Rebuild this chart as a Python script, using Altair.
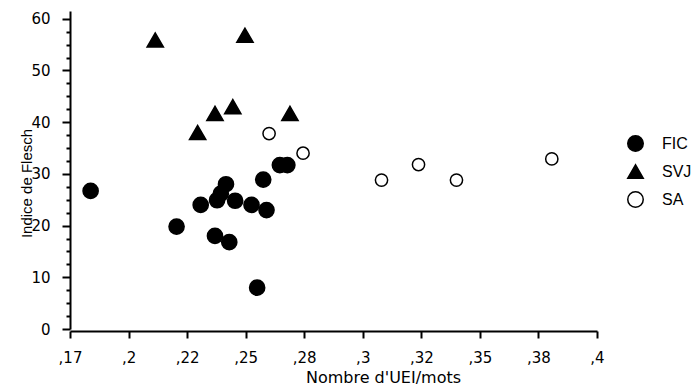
import altair as alt
import pandas as pd

# Reading-ease scores (Indice de Flesch) against the ratio of UEI per word, by corpus
groups = ["FIC", "SVJ", "SA"]

fic_ratio = [0.1838, 0.2205, 0.2308, 0.2378, 0.2394, 0.2416, 0.2455, 0.2525,
             0.2589, 0.2369, 0.2430, 0.2549, 0.2575, 0.2646, 0.2678]
fic_flesch = [26.7, 19.8, 24.0, 24.9, 26.2, 28.0, 24.8, 24.0,
              23.0, 18.0, 16.8, 8.0, 28.9, 31.7, 31.7]

svj_ratio = [0.2114, 0.2497, 0.2369, 0.2445, 0.2295, 0.2689]
svj_flesch = [55.9, 56.8, 41.7, 43.0, 38.0, 41.7]

sa_ratio = [0.2600, 0.2745, 0.3080, 0.3238, 0.3400, 0.3807]
sa_flesch = [37.8, 34.0, 28.8, 31.8, 28.8, 32.9]

x_ticks = [0.175, 0.2, 0.225, 0.25, 0.275, 0.3, 0.325, 0.35, 0.375, 0.4]
x_tick_labels = [",17", ",2", ",22", ",25", ",28", ",3", ",32", ",35", ",38", ",4"]
y_ticks = [0, 2.5, 5, 7.5, 10, 12.5, 15, 17.5, 20, 22.5, 25, 27.5, 30,
           32.5, 35, 37.5, 40, 42.5, 45, 47.5, 50, 52.5, 55, 57.5, 60]

rows = []
for name, xs, ys in [("FIC", fic_ratio, fic_flesch),
                     ("SVJ", svj_ratio, svj_flesch),
                     ("SA", sa_ratio, sa_flesch)]:
    rows += [{"groupe": name, "ratio": x, "flesch": y} for x, y in zip(xs, ys)]
df = pd.DataFrame(rows)

x_label_expr = ("[" + ",".join("'%s'" % s for s in x_tick_labels) +
                "][round((datum.value - 0.175) / 0.025)]")

legend_spec = dict(
    title=None,
    orient="none",
    legendX=557,
    legendY=124,
    symbolSize=240,
    symbolStrokeWidth=1.5,
    labelFont="Liberation Sans",
    labelFontSize=16,
    labelColor="black",
    labelOffset=18,
    rowPadding=6,
)

x_enc = alt.X(
    "ratio:Q",
    scale=alt.Scale(domain=[0.175, 0.4], nice=False, zero=False),
    axis=alt.Axis(
        values=x_ticks,
        labelExpr=x_label_expr,
        title="Nombre d'UEI/mots",
        offset=2,
        tickSize=7,
        labelPadding=12,
        labelFont="DejaVu Sans",
        labelFontSize=15,
        labelFlush=False,
        labelOverlap=False,
        titleFont="DejaVu Sans",
        titleFontSize=16,
        titleFontWeight="normal",
        titleX=313,
        titleY=51,
        titleAlign="center",
        titleBaseline="alphabetic",
    ),
)

y_enc = alt.Y(
    "flesch:Q",
    scale=alt.Scale(domain=[0, 61.5], nice=False),
    axis=alt.Axis(
        values=y_ticks,
        labelExpr="datum.value % 10 === 0 ? datum.label : ''",
        tickSize={"condition": {"test": "datum.value % 10 === 0", "value": 8}, "value": 4},
        labelPadding=12,
        labelFont="DejaVu Sans",
        labelFontSize=15,
        labelFlush=False,
        labelOverlap=False,
        title="Indice de Flesch",
        titleFont="Liberation Sans",
        titleFontSize=15,
        titleFontWeight="normal",
        titleX=-39,
        titleY=172,
        titleAngle=270,
        titleAlign="center",
        titleBaseline="alphabetic",
    ),
)

shape_enc = alt.Shape(
    "groupe:N",
    scale=alt.Scale(domain=groups, range=["circle", "triangle-up", "circle"]),
    legend=alt.Legend(**legend_spec),
)
fill_enc = alt.Fill(
    "groupe:N",
    scale=alt.Scale(domain=groups, range=["black", "black", "white"]),
    legend=alt.Legend(**legend_spec),
)
stroke_enc = alt.Stroke(
    "groupe:N",
    scale=alt.Scale(domain=groups, range=["black", "black", "black"]),
    legend=alt.Legend(**legend_spec),
)

base = alt.Chart(df).encode(
    x=x_enc, y=y_enc, shape=shape_enc, fill=fill_enc, stroke=stroke_enc
)

# marker area per corpus: filled circles, triangles, open circles
marker_size = {"FIC": 230, "SVJ": 266, "SA": 150}

layers = [
    base.transform_filter(alt.datum.groupe == g).mark_point(
        opacity=1, strokeWidth=1.5, size=marker_size[g]
    )
    for g in groups
]

chart = alt.layer(*layers).properties(
    width=527,
    height=318,
    autosize=alt.AutoSizeParams(type="none"),
    padding={"left": 70, "top": 11, "right": 101, "bottom": 58},
    background="white",
).configure_view(
    stroke=None
).configure_axis(
    domainColor="black",
    domainWidth=2,
    tickColor="black",
    tickWidth=2,
    labelColor="black",
    titleColor="black",
    grid=False,
)

chart.save("out.html", embed_options={"renderer": "svg", "actions": False})
